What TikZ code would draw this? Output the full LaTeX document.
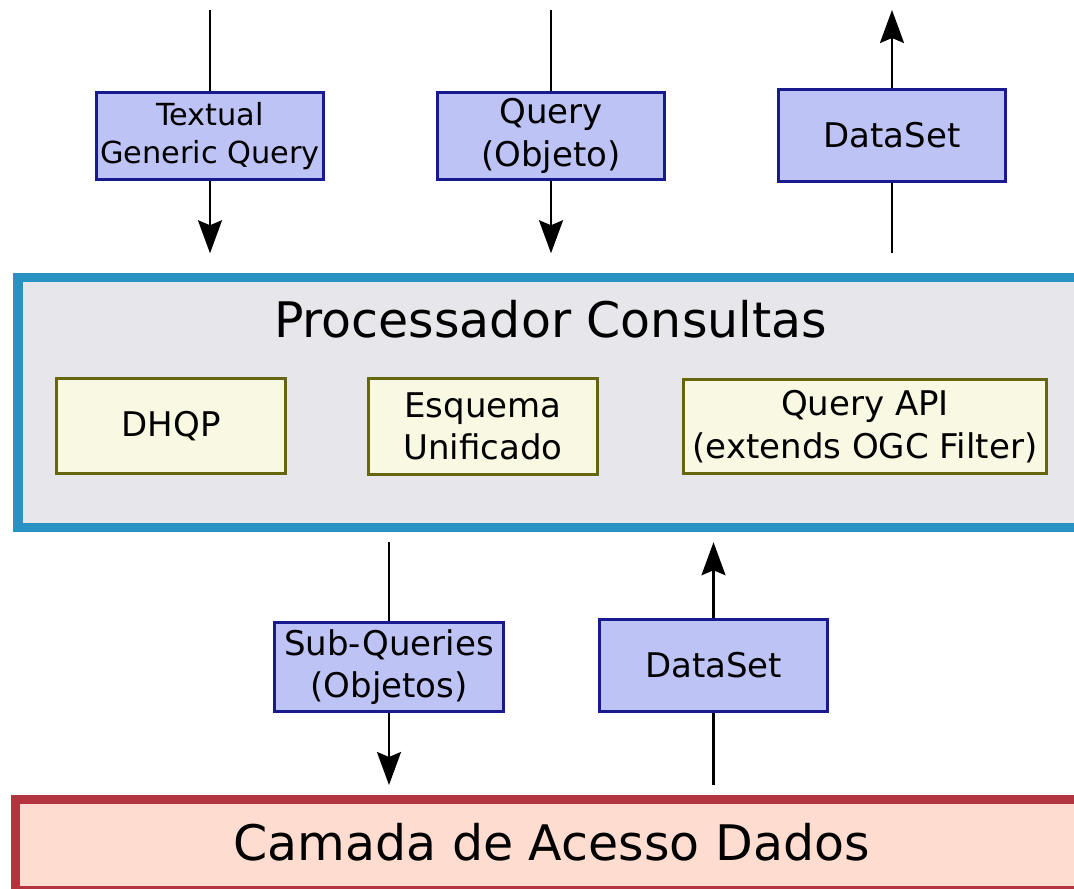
\documentclass[tikz,border=0pt]{standalone}
\usepackage{fontspec}
\setmainfont{DejaVu Sans}
\usetikzlibrary{arrows.meta}
\definecolor{smallfill}{HTML}{BEC3F5}
\definecolor{smalldraw}{HTML}{1A1A90}
\definecolor{yelfill}{HTML}{F8F8E3}
\definecolor{yeldraw}{HTML}{66660F}
\definecolor{procfill}{HTML}{E6E6EB}
\definecolor{procdraw}{HTML}{2892C3}
\definecolor{redfill}{HTML}{FFDCD0}
\definecolor{reddraw}{HTML}{B3343F}
\tikzset{
  msgbox/.style={draw=smalldraw, fill=smallfill, line width=2.8pt, inner sep=0pt,
    align=center, font=\fontsize{34}{42.5}\selectfont},
  compbox/.style={draw=yeldraw, fill=yelfill, line width=3.2pt, inner sep=0pt,
    align=center, font=\fontsize{34}{42.5}\selectfont},
  procbox/.style={draw=procdraw, fill=procfill, line width=9.5pt, inner sep=0pt},
  layerbox/.style={draw=reddraw, fill=redfill, line width=9pt, inner sep=0pt},
  bigtext/.style={font=\fontsize{49}{60}\selectfont, inner sep=0pt, anchor=base},
  flow/.style={line width=2.2pt, draw=black},
  flowarrow/.style={line width=2.2pt, draw=black, -{Stealth[length=33pt, width=24pt, inset=5pt]}}
}
\begin{document}
\begin{tikzpicture}[x=1pt, y=-1pt]
\useasboundingbox (0,0) rectangle (1074,889);
\fill[white] (0,0) rectangle (1074,889);

% main boxes
\node[procbox, minimum width=1080pt, minimum height=250pt] (proc) at (558,402.5) {};
\node[layerbox, minimum width=1085pt, minimum height=90.5pt] (layer) at (557.5,844.75) {};
\node[bigtext] (proctitle) at (550.5,337) {Processador Consultas};
\node[bigtext] (layertitle) at (551.5,860) {Camada de Acesso Dados};

% components
\node[compbox, minimum width=229pt, minimum height=95pt] (dhqp) at (171,426) {DHQP};
\node[compbox, minimum width=229pt, minimum height=96pt] (esq) at (483,426.5) {Esquema\\Unificado};
\node[compbox, minimum width=363pt, minimum height=94pt] (qapi) at (865,426.5) {Query API\\(extends OGC Filter)};

% message boxes top
\node[msgbox, minimum width=227.5pt, minimum height=87.5pt, font=\fontsize{30.4}{38}\selectfont] (tq) at (210,136) {Textual\\Generic Query};
\node[msgbox, minimum width=227.5pt, minimum height=87.5pt] (qo) at (551,136) {Query\\(Objeto)};
\node[msgbox, minimum width=227.5pt, minimum height=92.5pt] (ds1) at (892,135.5) {DataSet};

% message boxes bottom
\node[msgbox, minimum width=229.5pt, minimum height=89.5pt] (subq) at (389,667) {Sub-Queries\\(Objetos)};
\node[msgbox, minimum width=228.5pt, minimum height=92.5pt] (ds2) at (713.5,665.5) {DataSet};

% free ends at the top
\coordinate (in1) at (210,10);
\coordinate (in2) at (551,10);
\coordinate (out1) at (892,10);

% top connectors
\draw[flow] (in1) -- (tq.north);
\draw[flowarrow, shorten >=19.5pt] (tq.south) -- (tq.south |- proc.north);
\draw[flow] (in2) -- (qo.north);
\draw[flowarrow, shorten >=19.5pt] (qo.south) -- (qo.south |- proc.north);
\draw[flow, shorten <=19.5pt] (ds1.south |- proc.north) -- (ds1.south);
\draw[flowarrow] (ds1.north) -- (out1);

% bottom connectors
\draw[flow, shorten <=10pt] (subq.north |- proc.south) -- (subq.north);
\draw[flowarrow, shorten >=10pt] (subq.south) -- (subq.south |- layer.north);
\draw[flow, shorten <=10pt] (ds2.south |- layer.north) -- (ds2.south);
\draw[flowarrow, shorten >=10pt] (ds2.north) -- (ds2.north |- proc.south);
\end{tikzpicture}
\end{document}
